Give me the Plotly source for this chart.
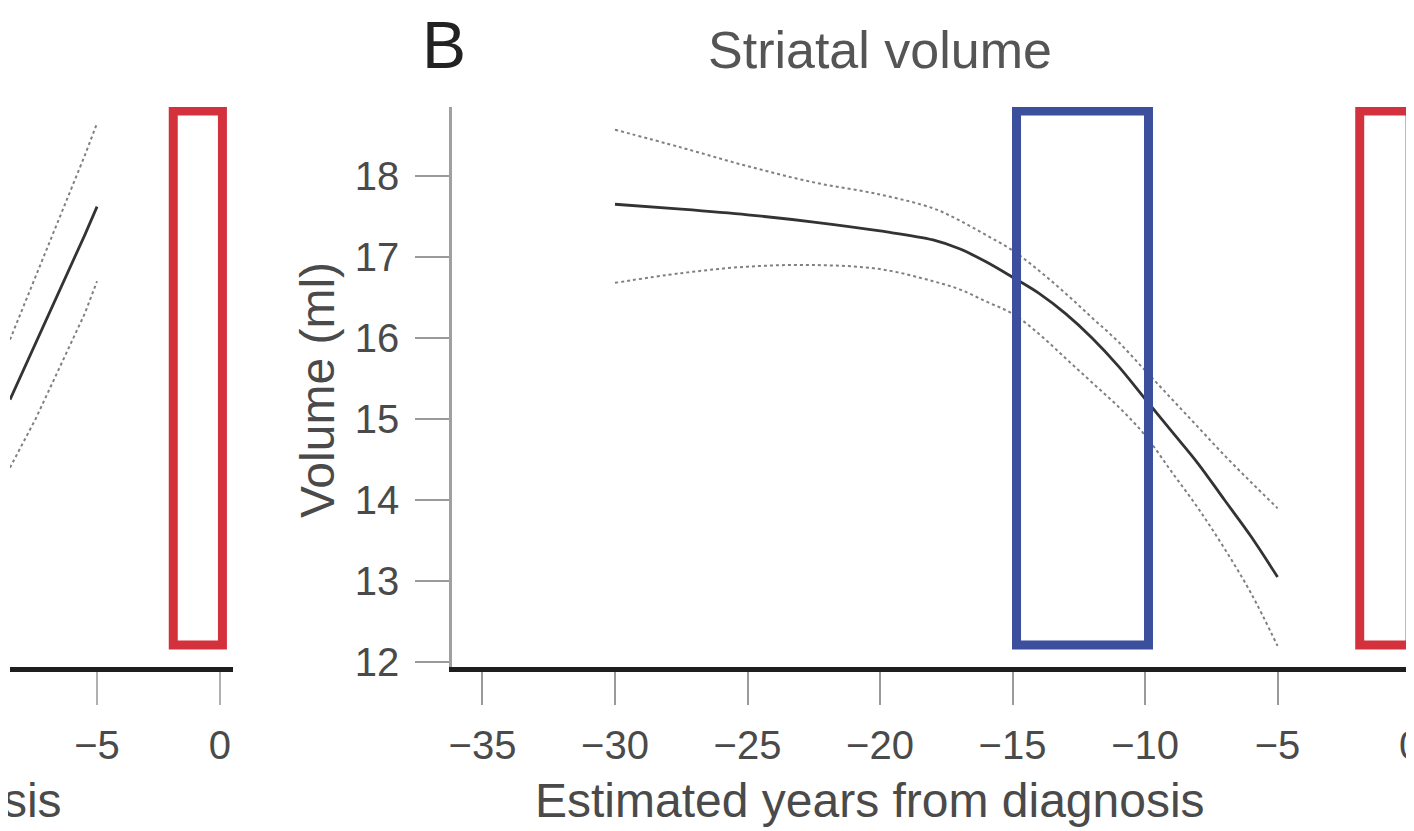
import plotly.graph_objects as go

# ---------------- data ----------------
# Panel B: striatal volume (ml) vs estimated years from diagnosis
years_b = [-30, -27.5, -25, -22.5, -20, -18, -17, -16, -15, -14, -13, -12, -11, -10, -9, -8, -7, -6, -5]
fit_b   = [17.65, 17.59, 17.52, 17.43, 17.32, 17.21, 17.1, 16.94, 16.75, 16.55, 16.3, 16.0, 15.65, 15.25, 14.85, 14.45, 14.0, 13.55, 13.05]
upper_b = [18.57, 18.35, 18.12, 17.92, 17.77, 17.6, 17.45, 17.27, 17.08, 16.83, 16.55, 16.25, 15.95, 15.6, 15.25, 14.9, 14.55, 14.22, 13.9]
lower_b = [16.68, 16.8, 16.88, 16.9, 16.85, 16.7, 16.6, 16.45, 16.3, 16.05, 15.75, 15.45, 15.15, 14.8, 14.35, 13.9, 13.4, 12.85, 12.2]

# Panel A (cropped at the left edge): only the last part of its curves is visible
years_a = [-8.54, -7.5, -6.5, -5.5, -5]
fit_a   = [15.24, 15.93, 16.6, 17.27, 17.62]
upper_a = [15.98, 16.75, 17.5, 18.25, 18.65]
lower_a = [14.4, 15.0, 15.65, 16.3, 16.7]

x_ticks_b = [-35, -30, -25, -20, -15, -10, -5, 0]
x_ticks_a = [-5, 0]
y_ticks = [12, 13, 14, 15, 16, 17, 18]

# highlighted windows (years)
blue_window = [-14.85, -9.87]
red_window = [-1.9, 0.0]
box_volume = [12.21, 18.8]

# ---------------- figure ----------------
W, H = 1414, 831
OFF = 8  # page body margin offset in the rendered page
FONT = "Liberation Sans, Arial, Helvetica, sans-serif"
TXT = "#4a4a4a"

def px(x):
    return (x - OFF) / W

def py(y):
    return 1 - (y - OFF) / H

def minus_labels(vals):
    return ["\u2212" + str(-v) if v < 0 else str(v) for v in vals]

fig = go.Figure()

solid = dict(color="#333333", width=2.8)
dotted = dict(color="#808080", width=2, dash="dot")

# panel B traces
fig.add_trace(go.Scatter(x=years_b, y=upper_b, mode="lines", line=dotted, xaxis="x", yaxis="y", line_shape="spline"))
fig.add_trace(go.Scatter(x=years_b, y=lower_b, mode="lines", line=dotted, xaxis="x", yaxis="y", line_shape="spline"))
fig.add_trace(go.Scatter(x=years_b, y=fit_b, mode="lines", line=solid, xaxis="x", yaxis="y", line_shape="spline"))

# panel A traces
fig.add_trace(go.Scatter(x=years_a, y=upper_a, mode="lines", line=dotted, xaxis="x2", yaxis="y2"))
fig.add_trace(go.Scatter(x=years_a, y=lower_a, mode="lines", line=dotted, xaxis="x2", yaxis="y2"))
fig.add_trace(go.Scatter(x=years_a, y=fit_a, mode="lines", line=solid, xaxis="x2", yaxis="y2"))

y_dom = [py(667), py(107)]
y_range = [11.94, 18.85]

tickfont = dict(family=FONT, size=40, color=TXT)

fig.update_layout(
    template="none",
    width=W, height=H, autosize=False,
    margin=dict(l=0, r=0, t=0, b=0, pad=0),
    paper_bgcolor="white", plot_bgcolor="white",
    showlegend=False,
    xaxis=dict(
        domain=[px(452), 1.0], range=[-36.15, 0.45],
        tickmode="array", tickvals=x_ticks_b, ticktext=minus_labels(x_ticks_b),
        ticks="outside", ticklen=33, tickwidth=2, tickcolor="#9a9a9a",
        showline=True, linecolor="#1e1e1e", linewidth=5,
        showgrid=False, zeroline=False, tickfont=tickfont, anchor="y",
        ticklabelstandoff=6, automargin=False,
    ),
    yaxis=dict(
        domain=y_dom, range=y_range,
        tickmode="array", tickvals=y_ticks,
        ticks="outside", ticklen=34, tickwidth=2, tickcolor="#9a9a9a",
        showline=True, linecolor="#a0a0a0", linewidth=2.5,
        showgrid=False, zeroline=False, tickfont=tickfont, anchor="x",
        ticklabelstandoff=8, automargin=False,
    ),
    xaxis2=dict(
        domain=[px(10), px(233)], range=[-8.54, 0.53],
        tickmode="array", tickvals=x_ticks_a, ticktext=minus_labels(x_ticks_a),
        ticks="outside", ticklen=33, tickwidth=2, tickcolor="#b0b0b0",
        showline=True, linecolor="#1e1e1e", linewidth=5,
        showgrid=False, zeroline=False, tickfont=tickfont, anchor="y2",
        ticklabelstandoff=6, automargin=False,
    ),
    yaxis2=dict(
        domain=y_dom, range=y_range, visible=False, anchor="x2", automargin=False,
    ),
)

box_line = 9
shapes = [
    dict(type="rect", xref="x", yref="y", x0=blue_window[0], x1=blue_window[1],
         y0=box_volume[0], y1=box_volume[1], line=dict(color="#3b4f9c", width=box_line),
         fillcolor="rgba(0,0,0,0)", layer="above"),
    dict(type="rect", xref="x", yref="y", x0=red_window[0], x1=red_window[1],
         y0=box_volume[0], y1=box_volume[1], line=dict(color="#d3323d", width=box_line),
         fillcolor="rgba(0,0,0,0)", layer="above"),
    dict(type="rect", xref="x2", yref="y2", x0=red_window[0], x1=red_window[1] + 0.1,
         y0=box_volume[0], y1=box_volume[1], line=dict(color="#d3323d", width=box_line),
         fillcolor="rgba(0,0,0,0)", layer="above"),
]
fig.update_layout(shapes=shapes)

ann = [
    dict(text="B", x=px(444), y=py(45), font=dict(family=FONT, size=66, color="#222222")),
    dict(text="Striatal volume", x=px(880), y=py(50), font=dict(family=FONT, size=52, color="#555555")),
    dict(text="Volume (ml)", x=px(318), y=py(390), textangle=-90, font=dict(family=FONT, size=48, color=TXT)),
    dict(text="Estimated years from diagnosis", x=px(870), y=py(800), font=dict(family=FONT, size=48, color=TXT)),
    dict(text="Estimated years from diagnosis", x=px(64), y=py(800), xanchor="right",
         font=dict(family=FONT, size=48, color=TXT)),
]
for a in ann:
    a.setdefault("xanchor", "center")
    a.update(xref="paper", yref="paper", yanchor="middle", showarrow=False)
fig.update_layout(annotations=ann)

fig.write_html("out.html")
